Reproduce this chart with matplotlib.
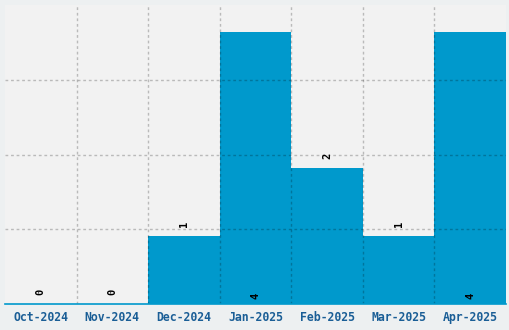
import matplotlib
matplotlib.use("Agg")
import matplotlib.pyplot as plt
import numpy as np

categories = ["Oct-2024", "Nov-2024", "Dec-2024", "Jan-2025", "Feb-2025", "Mar-2025", "Apr-2025"]
values = [0, 0, 1, 4, 2, 1, 4]

bar_color = "#0099cc"
fig = plt.figure(figsize=(5.1, 3.3), dpi=100)
fig.patch.set_facecolor("#edf0f1")
ax = fig.add_axes([5/510, 26/330, 501/510, 299/330])
ax.set_facecolor("#f2f2f2")

x = np.arange(len(categories))
ax.bar(x, values, width=1.0, color=bar_color, zorder=2)
ax.set_xlim(-0.5, len(categories) - 0.5)
ymax = 4.4
ax.set_ylim(0, ymax)

# grid
for b in np.arange(0.5, len(categories) - 0.5, 1):
    ax.axvline(b, color="black", alpha=0.23, lw=1, ls=(0, (2, 2)), zorder=3)
for g in np.linspace(0, ymax, 5)[1:-1]:
    ax.axhline(g, color="black", alpha=0.23, lw=1, ls=(0, (2, 2)), zorder=3)

ax.set_yticks([])
ax.set_xticks(x)
ax.set_xticklabels(categories, family="DejaVu Sans Mono", fontweight="bold",
                   fontsize=8.3, color="#1a5e96")
ax.tick_params(axis="x", length=0, pad=5)
for s in ["top", "right", "left"]:
    ax.spines[s].set_visible(False)
ax.spines["bottom"].set_color(bar_color)
ax.spines["bottom"].set_linewidth(1.2)
ax.spines["bottom"].set_zorder(4)

vmax = max(values)
for xi, v in zip(x, values):
    if v == vmax:
        ax.annotate(str(v), (xi, 0), xytext=(0, 6), textcoords="offset points",
                    ha="center", va="center", rotation=90, fontsize=7.5,
                    family="DejaVu Sans Mono", fontweight="bold", color="black", zorder=5)
    else:
        ax.annotate(str(v), (xi, v), xytext=(0, 8.5), textcoords="offset points",
                    ha="center", va="center", rotation=90, fontsize=7.5,
                    family="DejaVu Sans Mono", fontweight="bold", color="black", zorder=5)

fig.savefig("out.png", dpi=100, facecolor=fig.get_facecolor())
